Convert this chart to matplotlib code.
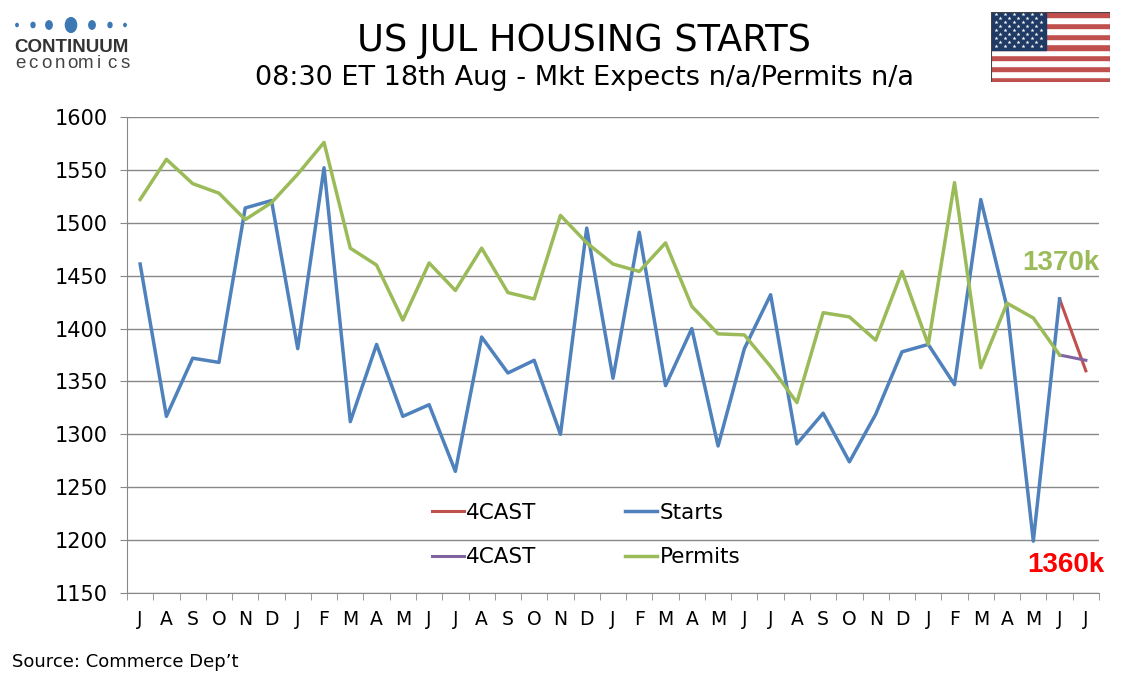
import matplotlib.pyplot as plt
from matplotlib.patches import Rectangle, Ellipse

# dados (milhares, Jul22 -> Jun25)
months = list("JASONDJFMAMJ") * 3 + ["J"]

starts = [1461, 1317, 1372, 1368, 1514, 1521, 1381, 1552, 1312, 1385, 1317, 1328,
          1265, 1392, 1358, 1370, 1300, 1495, 1353, 1491, 1346, 1400, 1289, 1381,
          1432, 1291, 1320, 1274, 1319, 1378, 1385, 1347, 1522, 1420, 1199, 1428]
permits = [1522, 1560, 1537, 1528, 1503, 1519, 1546, 1576, 1476, 1460, 1408, 1462,
           1436, 1476, 1434, 1428, 1507, 1481, 1461, 1454, 1481, 1421, 1395, 1394,
           1364, 1330, 1415, 1411, 1389, 1454, 1385, 1538, 1363, 1424, 1410, 1375]
starts_fc = [1428, 1360]
permits_fc = [1375, 1370]

blue = '#4F81BD'
green = '#9BBB59'
red = '#C0504D'
purple = '#8064A2'

fig = plt.figure(figsize=(11.34, 6.8), dpi=100)
ax = fig.add_axes([127 / 1134, 1 - 593 / 680, (1099 - 127) / 1134, (593 - 117) / 680])

x = list(range(len(starts)))
xf = [len(starts) - 1, len(starts)]

l_fc1, = ax.plot(xf, starts_fc, color=red, lw=2.2, label='4CAST')
l_fc2, = ax.plot(xf, permits_fc, color=purple, lw=2.2, label='4CAST')
l_st, = ax.plot(x, starts, color=blue, lw=2.5, label='Starts')
l_pm, = ax.plot(x, permits, color=green, lw=2.5, label='Permits')

ax.set_xlim(-0.5, len(months) - 0.5)
ax.set_ylim(1150, 1600)
ax.set_yticks(range(1150, 1601, 50))
ax.set_xticks(range(len(months)))
ax.set_xticklabels(months)
ax.set_xticks([i + 0.5 for i in range(-1, len(months))], minor=True)
ax.tick_params(axis='x', which='major', length=0, pad=12, labelsize=13.5)
ax.tick_params(axis='x', which='minor', length=5, color='#888888', direction='out')
ax.tick_params(axis='y', length=5, color='#888888', labelsize=15, pad=9)
ax.grid(axis='y', color='#888888', lw=1)
ax.set_axisbelow(True)
for s in ['top', 'right']:
    ax.spines[s].set_visible(False)
for s in ['left', 'bottom']:
    ax.spines[s].set_color('#888888')

ax.legend(handles=[l_fc1, l_fc2, l_st, l_pm], ncol=2, frameon=False, fontsize=15.5,
          handlelength=1.5, handletextpad=0.1, columnspacing=4.1, labelspacing=1.15,
          loc='center', bbox_to_anchor=(586 / 1134, 1 - 535 / 680),
          bbox_transform=fig.transFigure)

ax.text(36.5, 1462, '1370k', color=green, fontsize=20, fontweight='bold',
        family='Liberation Sans', ha='right', va='center', clip_on=False)
ax.text(36.7, 1176, '1360k', color='#FF0000', fontsize=20, fontweight='bold',
        family='Liberation Sans', ha='right', va='center', clip_on=False)

# titulos
fig.text(0.515, 0.941, 'US JUL HOUSING STARTS', fontsize=26.5, ha='center', va='center')
fig.text(0.515, 0.885, '08:30 ET 18th Aug - Mkt Expects n/a/Permits n/a',
         fontsize=19.5, ha='center', va='center')
fig.text(12 / 1134, 1 - 662 / 680, 'Source: Commerce Dep\u2019t', fontsize=13,
         ha='left', va='center')

# logo
lg = fig.add_axes([0, 1 - 80 / 680, 140 / 1134, 80 / 680])
lg.set_xlim(0, 140)
lg.set_ylim(80, 0)
lg.axis('off')
dot_x = [17, 33, 49, 71, 92, 110, 125]
dot_r = [1.5, 2.5, 4, 7, 4, 2.5, 1.5]
for dx, dr in zip(dot_x, dot_r):
    lg.add_patch(Ellipse((dx, 25), dr * 1.6, dr * 2.1, color='#3C78B4'))
lg.text(71, 47, 'CONTINUUM', fontsize=13.5, fontweight='bold', family='Liberation Sans',
        color='#333333', ha='center', va='center')
word = 'economics'
for i, ch in enumerate(word):
    lg.text(20 + i * 13.2, 64, ch, fontsize=13.5, family='Liberation Sans',
            color='#444444', ha='center', va='center')

# bandeira
fl = fig.add_axes([991 / 1134, 1 - 82 / 680, 119 / 1134, 70 / 680])
fl.set_xlim(0, 19)
fl.set_ylim(0, 13)
fl.axis('off')
for i in range(13):
    fl.add_patch(Rectangle((0, i), 19, 1, color='#C0504D' if i % 2 == 0 else 'white'))
fl.add_patch(Rectangle((0, 6), 8.8, 7, color='#1F3A64'))
sx, sy = [], []
for r in range(9):
    n = 6 if r % 2 == 0 else 5
    off = 0.75 if r % 2 == 0 else 1.45
    for c in range(n):
        sx.append(off + c * 1.45)
        sy.append(12.6 - r * 0.73)
fl.scatter(sx, sy, marker='*', s=9, color='white', lw=0)
fl.add_patch(Rectangle((0, 0), 19, 13, fill=False, ec='#444444', lw=0.8))

plt.savefig('out.png', dpi=100)
